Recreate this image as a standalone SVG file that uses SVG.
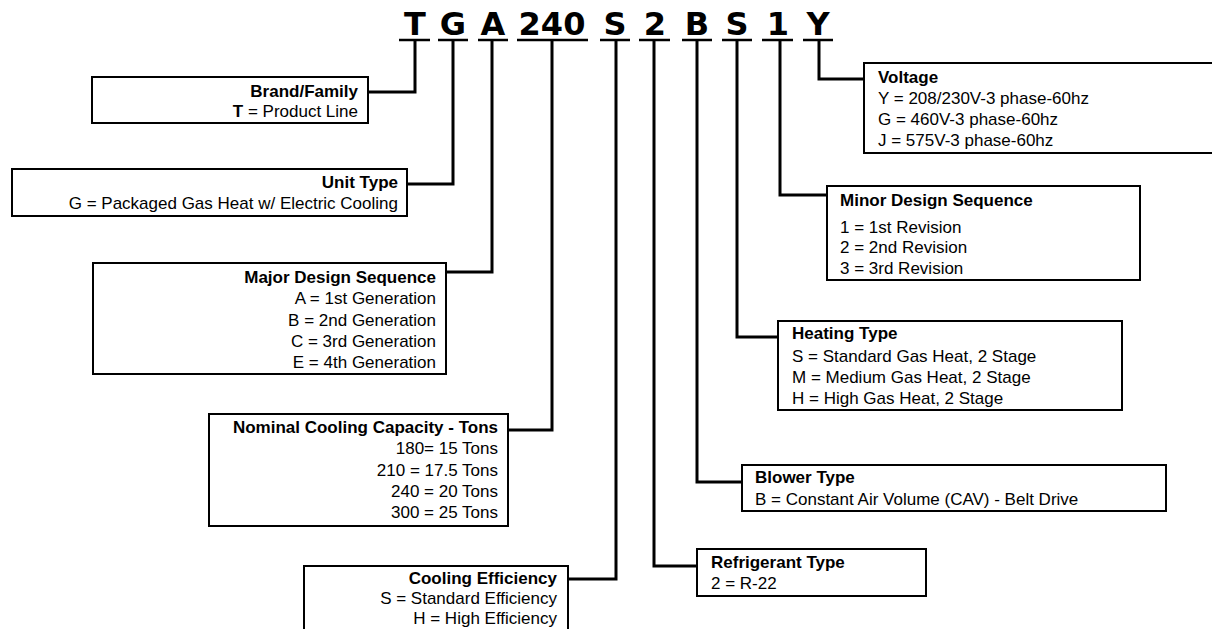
<svg xmlns="http://www.w3.org/2000/svg" width="1212" height="629" viewBox="0 0 1212 629">
<style>
.bg{fill:#fff}
.box{fill:#fff;stroke:#000;stroke-width:2}
.t{font-family:"Liberation Sans",Arial,sans-serif;font-size:17px;fill:#000}
.b{font-weight:bold}
.r{text-anchor:end}
.code{font-family:"DejaVu Sans",Verdana,sans-serif;font-weight:bold;font-size:32px;fill:#000;text-anchor:middle}
.ul{stroke:#000;stroke-width:2.5}
.con{fill:none;stroke:#000;stroke-width:3}
</style>
<rect class="bg" x="0" y="0" width="1212" height="629"/>
<g id="code">
<text class="code" x="415" y="35">T</text>
<text class="code" x="453" y="35">G</text>
<text class="code" x="493" y="35">A</text>
<text class="code" x="552" y="35">240</text>
<text class="code" x="615" y="35">S</text>
<text class="code" x="655" y="35">2</text>
<text class="code" x="697" y="35">B</text>
<text class="code" x="737" y="35">S</text>
<text class="code" x="778" y="35">1</text>
<text class="code" x="818" y="35">Y</text>
<line class="ul" x1="399" y1="40" x2="430" y2="40"/>
<line class="ul" x1="438" y1="40" x2="468" y2="40"/>
<line class="ul" x1="478" y1="40" x2="508" y2="40"/>
<line class="ul" x1="517" y1="40" x2="588" y2="40"/>
<line class="ul" x1="600" y1="40" x2="630" y2="40"/>
<line class="ul" x1="639" y1="40" x2="670" y2="40"/>
<line class="ul" x1="682" y1="40" x2="712" y2="40"/>
<line class="ul" x1="722" y1="40" x2="752" y2="40"/>
<line class="ul" x1="762" y1="40" x2="793" y2="40"/>
<line class="ul" x1="803" y1="40" x2="833" y2="40"/>
</g>
<g id="connectors">
<polyline class="con" points="415,40 415,92 368,92"/>
<polyline class="con" points="453,40 453,184 407,184"/>
<polyline class="con" points="492,40 492,272 446,272"/>
<polyline class="con" points="552,40 552,430 508,430"/>
<polyline class="con" points="616,40 616,579 568,579"/>
<polyline class="con" points="654,40 654,566 697,566"/>
<polyline class="con" points="697,40 697,482 742,482"/>
<polyline class="con" points="737,40 737,337 778,337"/>
<polyline class="con" points="780,40 780,195 827,195"/>
<polyline class="con" points="819,40 819,79 864,79"/>
</g>
<g id="brand">
<rect class="box" x="92" y="77" width="276" height="46"/>
<text class="t b r" x="358" y="97">Brand/Family</text>
<text class="t r" x="358" y="117"><tspan class="b">T</tspan> = Product Line</text>
</g>
<g id="unit">
<rect class="box" x="12" y="169" width="395" height="47"/>
<text class="t b r" x="398" y="188">Unit Type</text>
<text class="t r" x="398" y="209">G = Packaged Gas Heat w/ Electric Cooling</text>
</g>
<g id="major">
<rect class="box" x="93" y="263" width="353" height="111"/>
<text class="t b r" x="436" y="283">Major Design Sequence</text>
<text class="t r" x="436" y="304">A = 1st Generation</text>
<text class="t r" x="436" y="326">B = 2nd Generation</text>
<text class="t r" x="436" y="347">C = 3rd Generation</text>
<text class="t r" x="436" y="368">E = 4th Generation</text>
</g>
<g id="nominal">
<rect class="box" x="209" y="414" width="299" height="112"/>
<text class="t b r" x="498" y="433">Nominal Cooling Capacity - Tons</text>
<text class="t r" x="498" y="454">180= 15 Tons</text>
<text class="t r" x="498" y="476">210 = 17.5 Tons</text>
<text class="t r" x="498" y="497">240 = 20 Tons</text>
<text class="t r" x="498" y="518">300 = 25 Tons</text>
</g>
<g id="efficiency">
<rect class="box" x="304" y="566" width="264" height="90"/>
<text class="t b r" x="557" y="584">Cooling Efficiency</text>
<text class="t r" x="557" y="604">S = Standard Efficiency</text>
<text class="t r" x="557" y="624">H = High Efficiency</text>
</g>
<g id="voltage">
<rect class="box" x="864" y="63" width="360" height="90"/>
<text class="t b" x="878" y="83">Voltage</text>
<text class="t" x="878" y="104">Y = 208/230V-3 phase-60hz</text>
<text class="t" x="878" y="125">G = 460V-3 phase-60hz</text>
<text class="t" x="878" y="146">J = 575V-3 phase-60hz</text>
</g>
<g id="minor">
<rect class="box" x="827" y="186" width="313" height="94"/>
<text class="t b" x="840" y="206">Minor Design Sequence</text>
<text class="t" x="840" y="233">1 = 1st Revision</text>
<text class="t" x="840" y="253">2 = 2nd Revision</text>
<text class="t" x="840" y="274">3 = 3rd Revision</text>
</g>
<g id="heating">
<rect class="box" x="778" y="321" width="344" height="89"/>
<text class="t b" x="792" y="339">Heating Type</text>
<text class="t" x="792" y="362">S = Standard Gas Heat, 2 Stage</text>
<text class="t" x="792" y="383">M = Medium Gas Heat, 2 Stage</text>
<text class="t" x="792" y="404">H = High Gas Heat, 2 Stage</text>
</g>
<g id="blower">
<rect class="box" x="742" y="465" width="424" height="46"/>
<text class="t b" x="755" y="483">Blower Type</text>
<text class="t" x="755" y="505">B = Constant Air Volume (CAV) - Belt Drive</text>
</g>
<g id="refrigerant">
<rect class="box" x="697" y="549" width="229" height="47"/>
<text class="t b" x="711" y="568">Refrigerant Type</text>
<text class="t" x="711" y="589">2 = R-22</text>
</g>
</svg>
